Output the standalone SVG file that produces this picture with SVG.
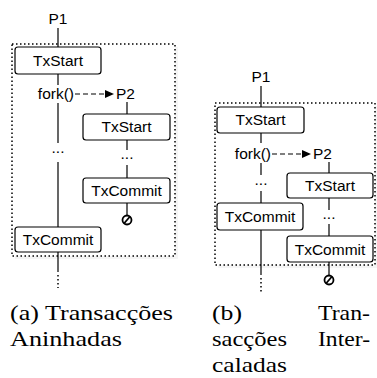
<svg xmlns="http://www.w3.org/2000/svg" width="377" height="378" viewBox="0 0 377 378">
<style>
.lbl{font-family:"Liberation Sans",Arial,sans-serif;font-size:15.5px;fill:#000}
.c{text-anchor:middle}
.box{fill:#fff;stroke:#000;stroke-width:1.2}
.ln{stroke:#000;stroke-width:1.2;fill:none}
.dot{stroke:#000;stroke-width:1.5;fill:none;stroke-dasharray:1.5 2.5}
.dash{stroke:#000;stroke-width:1.2;fill:none;stroke-dasharray:5 3}
.cap{font-family:"Liberation Serif","Times New Roman",serif;font-size:22px;fill:#000}
.nul{fill:none;stroke:#000;stroke-width:1.8}
</style>
<defs>
<marker id="ah" markerWidth="10" markerHeight="8" refX="9" refY="4" orient="auto" markerUnits="userSpaceOnUse">
<path d="M0,0 L9,4 L0,8 z" fill="#000"/>
</marker>
</defs>
<rect width="377" height="378" fill="#fff"/>

<!-- (a) -->
<g id="containerA">
<rect x="15" y="47" width="163" height="212" fill="#f5f5f5"/>
<rect x="12" y="44" width="163" height="212" fill="#fff"/>
<rect x="12" y="44" width="163" height="212" class="dot"/>
</g>
<g id="connectorsA">
<line class="ln" x1="58" y1="28" x2="58" y2="47"/>
<line class="ln" x1="58" y1="74" x2="58" y2="85"/>
<line class="ln" x1="58" y1="103" x2="58" y2="143"/>
<line class="ln" x1="58" y1="162" x2="58" y2="227"/>
<line class="ln" x1="58" y1="251" x2="58" y2="272"/>
<line class="dot" x1="58" y1="275" x2="58" y2="288"/>
<line class="dash" x1="75" y1="94" x2="114" y2="94" marker-end="url(#ah)"/>
<line class="ln" x1="127" y1="102" x2="127" y2="114"/>
<line class="ln" x1="127" y1="140" x2="127" y2="150"/>
<line class="ln" x1="127" y1="165" x2="127" y2="178"/>
<line class="ln" x1="127" y1="203" x2="127" y2="215"/>
</g>
<g id="a_P1"><text class="lbl c" x="58" y="24">P1</text></g>
<g id="a_TxStart1"><rect class="box" x="15" y="47" width="86" height="27" rx="3"/><text class="lbl c" x="58" y="66">TxStart</text></g>
<g id="a_fork"><text class="lbl" x="74" y="99" text-anchor="end">fork()</text></g>
<g id="a_P2"><text class="lbl" x="116" y="99">P2</text></g>
<g id="a_dots1"><text class="lbl c" x="58" y="153">...</text></g>
<g id="a_TxStart2"><rect class="box" x="83" y="114" width="87" height="26" rx="3"/><text class="lbl c" x="126.5" y="132">TxStart</text></g>
<g id="a_dots2"><text class="lbl c" x="127" y="159">...</text></g>
<g id="a_TxCommit2"><rect class="box" x="83" y="178" width="87" height="25" rx="3"/><text class="lbl c" x="126.5" y="196">TxCommit</text></g>
<g id="a_null"><circle class="nul" cx="127" cy="220" r="4.5"/><line class="nul" x1="130" y1="216.5" x2="124" y2="223.5"/></g>
<g id="a_TxCommit1"><rect class="box" x="15" y="227" width="86" height="25" rx="3"/><text class="lbl c" x="58" y="245">TxCommit</text></g>

<!-- (b) -->
<g id="containerB">
<rect x="218" y="106" width="160" height="162" fill="#f5f5f5"/>
<rect x="215" y="103" width="160" height="162" fill="#fff"/>
<rect x="215" y="103" width="160" height="162" class="dot"/>
</g>
<g id="connectorsB">
<line class="ln" x1="261" y1="86" x2="261" y2="107"/>
<line class="ln" x1="261" y1="133" x2="261" y2="143"/>
<line class="ln" x1="261" y1="163" x2="261" y2="175"/>
<line class="ln" x1="261" y1="191" x2="261" y2="203"/>
<line class="ln" x1="261" y1="230" x2="261" y2="275"/>
<line class="dot" x1="261" y1="278" x2="261" y2="293"/>
<line class="dash" x1="272" y1="154" x2="311" y2="154" marker-end="url(#ah)"/>
<line class="ln" x1="329" y1="162" x2="329" y2="173"/>
<line class="ln" x1="329" y1="198" x2="329" y2="210"/>
<line class="ln" x1="329" y1="224" x2="329" y2="236"/>
<line class="ln" x1="329" y1="262" x2="329" y2="275"/>
</g>
<g id="b_P1"><text class="lbl c" x="261" y="82">P1</text></g>
<g id="b_TxStart1"><rect class="box" x="217" y="107" width="87" height="26" rx="3"/><text class="lbl c" x="260.5" y="125">TxStart</text></g>
<g id="b_fork"><text class="lbl" x="271" y="159" text-anchor="end">fork()</text></g>
<g id="b_P2"><text class="lbl" x="313" y="159">P2</text></g>
<g id="b_dots1"><text class="lbl c" x="261" y="185">...</text></g>
<g id="b_TxCommit1"><rect class="box" x="217" y="203" width="86" height="27" rx="3"/><text class="lbl c" x="260" y="222">TxCommit</text></g>
<g id="b_TxStart2"><rect class="box" x="287" y="173" width="86" height="25" rx="3"/><text class="lbl c" x="330" y="191">TxStart</text></g>
<g id="b_dots2"><text class="lbl c" x="329" y="219">...</text></g>
<g id="b_TxCommit2"><rect class="box" x="287" y="236" width="86" height="26" rx="3"/><text class="lbl c" x="330" y="255">TxCommit</text></g>
<g id="b_null"><circle class="nul" cx="329" cy="280" r="4.5"/><line class="nul" x1="332" y1="276.5" x2="326" y2="283.5"/></g>

<!-- captions -->
<g id="captionA">
<text class="cap" x="10" y="320" textLength="163" lengthAdjust="spacingAndGlyphs">(a) Transacções</text>
<text class="cap" x="10" y="346" textLength="112" lengthAdjust="spacingAndGlyphs">Aninhadas</text>
</g>
<g id="captionB">
<text class="cap" x="212" y="320" textLength="30" lengthAdjust="spacingAndGlyphs">(b)</text>
<text class="cap" x="318" y="320" textLength="52" lengthAdjust="spacingAndGlyphs">Tran-</text>
<text class="cap" x="212" y="346" textLength="75" lengthAdjust="spacingAndGlyphs">sacções</text>
<text class="cap" x="318" y="346" textLength="52" lengthAdjust="spacingAndGlyphs">Inter-</text>
<text class="cap" x="212" y="372" textLength="75" lengthAdjust="spacingAndGlyphs">caladas</text>
</g>
</svg>
